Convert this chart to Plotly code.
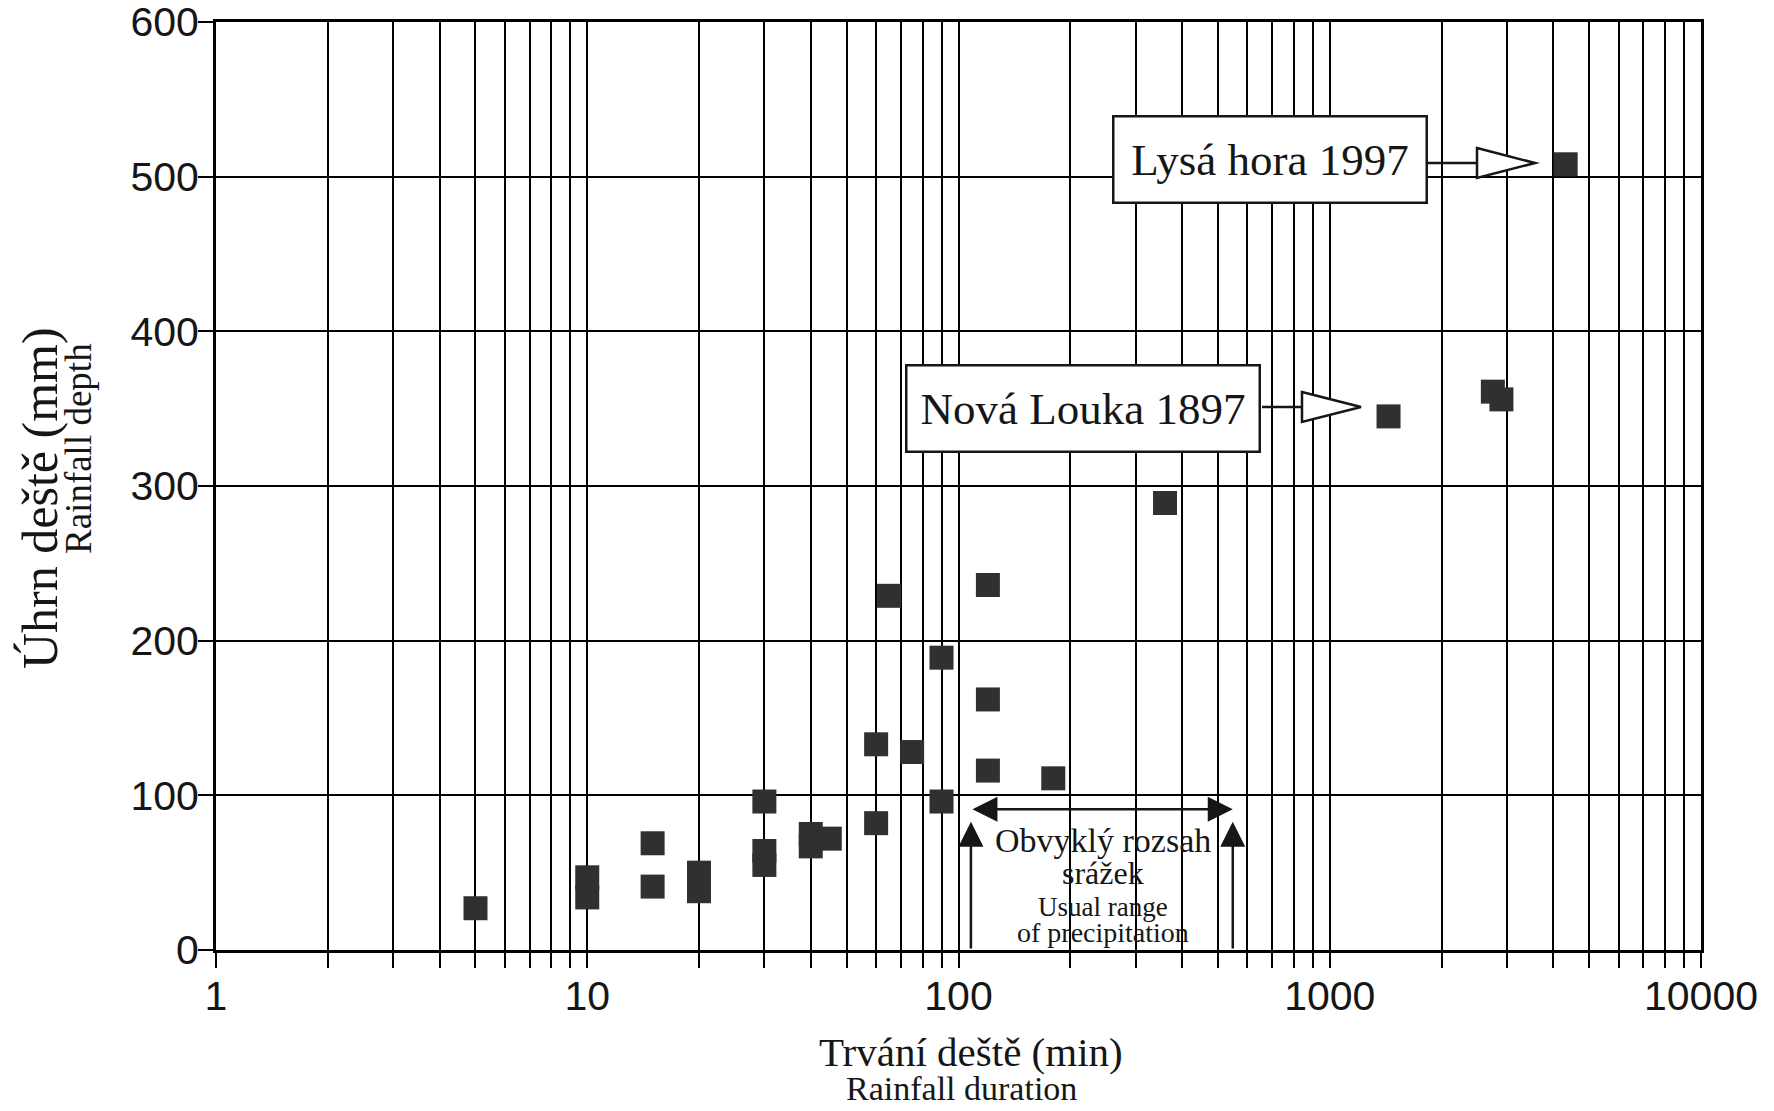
import math
import plotly.graph_objects as go

# ---------------- data ----------------
duration_min = [5, 10, 10, 15, 15, 20, 20, 30, 30, 30, 40, 40, 45, 60, 60,
                65, 75, 90, 90, 120, 120, 120, 180, 360, 1440, 2750, 2900, 4320]
depth_mm = [27, 34, 47, 41, 69, 38, 50, 55, 64, 96, 67, 75, 72, 82, 133,
            229, 128, 96, 189, 116, 162, 236, 111, 289, 345, 361, 356, 508]

callout_labels = ["Lysá hora 1997", "Nová Louka 1897"]
usual_range_min = [108, 548]          # duration bracket of "usual range"
usual_range_depth = 91                 # level of the horizontal double arrow

x_decades = [1, 10, 100, 1000, 10000]
y_ticks = [0, 100, 200, 300, 400, 500, 600]

# ---------------- layout geometry ----------------
W, H = 1774, 1111
L, R, T, B = 216, 73, 22, 161
PW, PH = W - L - R, H - T - B


def px_x(p):      # pixel -> paper x
    return (p - L) / PW


def px_y(p):      # pixel -> paper y
    return (H - B - p) / PH


x_tickvals = [m * 10 ** e for e in range(4) for m in range(1, 10)] + [10000]
x_ticktext = [str(v) if v in x_decades else "" for v in x_tickvals]

INK = "#161616"
SERIF = "Liberation Serif"
SANS = "Liberation Sans"

fig = go.Figure()
fig.add_trace(go.Scatter(
    x=duration_min, y=depth_mm, mode="markers",
    marker=dict(symbol="square", size=24, color="#303030", line=dict(width=0)),
    cliponaxis=False, showlegend=False, hoverinfo="x+y"))

axis_common = dict(
    showgrid=True, gridcolor="black", gridwidth=2.2,
    ticks="outside", ticklen=15, tickwidth=2.2, tickcolor="black",
    showline=True, linecolor="black", linewidth=3, mirror=True,
    zeroline=False, automargin=False, ticklabeloverflow="allow",
    tickfont=dict(family=SANS, size=41, color=INK),
)

fig.update_layout(
    width=W, height=H, autosize=False,
    margin=dict(l=L, r=R, t=T, b=B, pad=0),
    paper_bgcolor="white", plot_bgcolor="white",
    xaxis=dict(type="log", range=[0, 4], tickvals=x_tickvals, ticktext=x_ticktext,
               ticklabelstandoff=-7, **axis_common),
    yaxis=dict(range=[0, 600], tickvals=y_ticks, ticklabelstandoff=-9, **axis_common),
)

shapes = []
annotations = []

# white area inside the usual-range bracket (gridlines interrupted)
shapes.append(dict(type="rect", xref="paper", yref="paper", layer="between",
                   x0=math.log10(usual_range_min[0]) / 4, x1=math.log10(usual_range_min[1]) / 4,
                   y0=1.5 / 600, y1=98.5 / 600, fillcolor="white", line=dict(width=0)))

# bracket arrows
annotations.append(dict(xref="x", yref="y", axref="x", ayref="y",
                        x=math.log10(usual_range_min[1]), y=usual_range_depth,
                        ax=math.log10(usual_range_min[0]), ay=usual_range_depth,
                        text="", showarrow=True, arrowhead=2, arrowside="end+start",
                        arrowwidth=2.5, arrowsize=2.0, arrowcolor=INK))
for xv in usual_range_min:
    annotations.append(dict(xref="x", yref="y", axref="x", ayref="y",
                            x=math.log10(xv), y=83, ax=math.log10(xv), ay=0,
                            text="", showarrow=True, arrowhead=2,
                            arrowwidth=2.5, arrowsize=2.0, arrowcolor=INK))

# bracket text
for txt, py, fs in [("Obvyklý rozsah", 840, 34), ("srážek", 873, 32),
                    ("Usual range", 907, 27), ("of precipitation", 932, 28)]:
    annotations.append(dict(xref="paper", yref="paper", x=px_x(1103), y=px_y(py),
                            xanchor="center", yanchor="middle", showarrow=False,
                            text=txt, font=dict(family=SERIF, size=fs, color=INK)))

# callout boxes with open-triangle arrows
callouts = [
    # label, box centre (px), box width, arrow y, line start, triangle base, tip
    (callout_labels[0], (1270, 159), 307, 163, 1428, 1477, 1535),
    (callout_labels[1], (1083, 408), 347, 407, 1262, 1302, 1361),
]
for label, (cx, cy), bw, ay_px, x_start, x_base, x_tip in callouts:
    annotations.append(dict(xref="paper", yref="paper", x=px_x(cx), y=px_y(cy),
                            xanchor="center", yanchor="middle", showarrow=False,
                            text=label, font=dict(family=SERIF, size=45, color=INK),
                            bgcolor="white", bordercolor=INK, borderwidth=2.5,
                            borderpad=2, width=bw, height=80))
    shapes.append(dict(type="line", xref="paper", yref="paper", layer="above",
                       x0=px_x(x_start), x1=px_x(x_base), y0=px_y(ay_px), y1=px_y(ay_px),
                       line=dict(color=INK, width=2.5)))
    path = "M {:.5f},{:.5f} L {:.5f},{:.5f} L {:.5f},{:.5f} Z".format(
        px_x(x_base), px_y(ay_px - 15), px_x(x_tip), px_y(ay_px),
        px_x(x_base), px_y(ay_px + 15))
    shapes.append(dict(type="path", xref="paper", yref="paper", layer="above",
                       path=path, fillcolor="white", line=dict(color=INK, width=2.5)))

# axis titles
annotations += [
    dict(xref="paper", yref="paper", x=px_x(971), y=px_y(1052), showarrow=False,
         xanchor="center", yanchor="middle", text="Trvání deště (min)",
         font=dict(family=SERIF, size=41, color=INK)),
    dict(xref="paper", yref="paper", x=px_x(961), y=px_y(1088), showarrow=False,
         xanchor="center", yanchor="middle", text="Rainfall duration",
         font=dict(family=SERIF, size=34, color=INK)),
    dict(xref="paper", yref="paper", x=px_x(40), y=px_y(498), showarrow=False,
         xanchor="center", yanchor="middle", textangle=-90, text="Úhrn deště (mm)",
         font=dict(family=SERIF, size=50, color=INK)),
    dict(xref="paper", yref="paper", x=px_x(78), y=px_y(449), showarrow=False,
         xanchor="center", yanchor="middle", textangle=-90, text="Rainfall depth",
         font=dict(family=SERIF, size=37, color=INK)),
]

fig.update_layout(shapes=shapes, annotations=annotations)
fig.write_html("out.html", config={"displayModeBar": False},
               post_script="document.body.style.margin='0px';")
